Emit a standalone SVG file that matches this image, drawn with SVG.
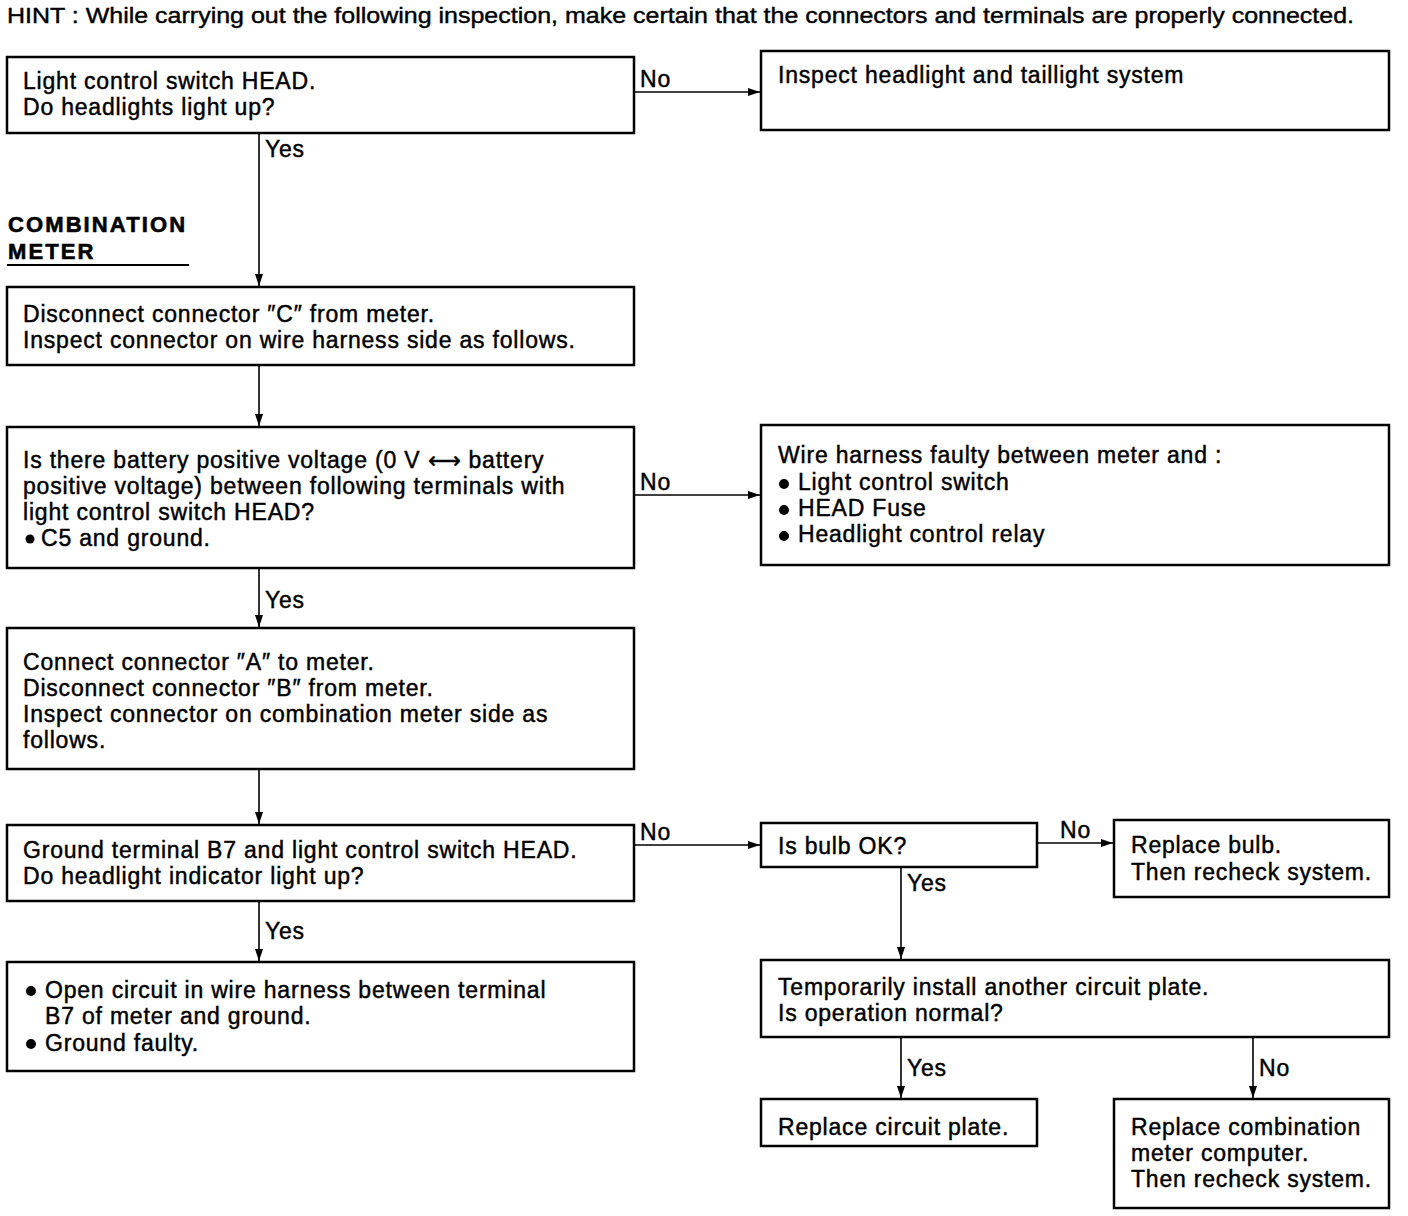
<svg xmlns="http://www.w3.org/2000/svg" width="1408" height="1216" viewBox="0 0 1408 1216">
<style>
.box{fill:#fff;stroke:#000;stroke-width:2.5}
.t{font-family:"Liberation Sans",Arial,sans-serif;font-size:23px;letter-spacing:0.8px;fill:#000;stroke:#000;stroke-width:0.45}
.lbl{font-family:"Liberation Sans",Arial,sans-serif;font-size:23px;letter-spacing:0.8px;fill:#000;stroke:#000;stroke-width:0.45}
.hint{font-family:"Liberation Sans",Arial,sans-serif;font-size:21.5px;fill:#000;stroke:#000;stroke-width:0.4}
.hd{font-family:"Liberation Sans",Arial,sans-serif;font-size:22px;font-weight:bold;letter-spacing:2.1px;fill:#000;stroke:#000;stroke-width:0.6}
.c{stroke:#000;stroke-width:1.6;fill:none;marker-end:url(#ah)}
.dot{fill:#000}
</style>
<defs>
<marker id="ah" viewBox="0 0 12 8" refX="12" refY="4" markerWidth="12" markerHeight="8" markerUnits="userSpaceOnUse" orient="auto">
<path d="M0,0 L12,4 L0,8 Z" fill="#000"/>
</marker>
</defs>
<rect width="1408" height="1216" fill="#fff"/>
<text class="hint" x="7" y="23" textLength="1347" lengthAdjust="spacingAndGlyphs">HINT : While carrying out the following inspection, make certain that the connectors and terminals are properly connected.</text>
<g id="heading">
<text class="hd" x="8" y="232">COMBINATION</text>
<text class="hd" x="8" y="259">METER</text>
<line x1="7" y1="265" x2="189" y2="265" stroke="#000" stroke-width="2"/>
</g>
<g id="connectors">
<line class="c" x1="634" y1="92" x2="760" y2="92"/>
<text class="lbl" x="640" y="87">No</text>
<line class="c" x1="259" y1="133" x2="259" y2="286"/>
<text class="lbl" x="265" y="157">Yes</text>
<line class="c" x1="259" y1="365" x2="259" y2="426"/>
<line class="c" x1="634" y1="495" x2="760" y2="495"/>
<text class="lbl" x="640" y="490">No</text>
<line class="c" x1="259" y1="568" x2="259" y2="627"/>
<text class="lbl" x="265" y="608">Yes</text>
<line class="c" x1="259" y1="769" x2="259" y2="824"/>
<line class="c" x1="634" y1="845" x2="760" y2="845"/>
<text class="lbl" x="640" y="840">No</text>
<line class="c" x1="259" y1="901" x2="259" y2="961"/>
<text class="lbl" x="265" y="939">Yes</text>
<line class="c" x1="1037" y1="843" x2="1113" y2="843"/>
<text class="lbl" x="1060" y="838">No</text>
<line class="c" x1="901" y1="867" x2="901" y2="959"/>
<text class="lbl" x="907" y="891">Yes</text>
<line class="c" x1="901" y1="1037" x2="901" y2="1098"/>
<text class="lbl" x="907" y="1076">Yes</text>
<line class="c" x1="1253" y1="1037" x2="1253" y2="1098"/>
<text class="lbl" x="1259" y="1076">No</text>
</g>
<g id="n1">
<rect class="box" x="7" y="57" width="627" height="76"/>
<text class="t" x="23" y="89">Light control switch HEAD.</text>
<text class="t" x="23" y="115">Do headlights light up?</text>
</g>
<g id="n2">
<rect class="box" x="761" y="51" width="628" height="79"/>
<text class="t" x="778" y="83">Inspect headlight and taillight system</text>
</g>
<g id="n3">
<rect class="box" x="7" y="287" width="627" height="78"/>
<text class="t" x="23" y="322">Disconnect connector ″C″ from meter.</text>
<text class="t" x="23" y="348">Inspect connector on wire harness side as follows.</text>
</g>
<g id="n4">
<rect class="box" x="7" y="427" width="627" height="141"/>
<text class="t" x="23" y="468">Is there battery positive voltage (0 V ⟷ battery</text>
<text class="t" x="23" y="494">positive voltage) between following terminals with</text>
<text class="t" x="23" y="520">light control switch HEAD?</text>
<circle class="dot" cx="30" cy="539" r="4.5"/>
<text class="t" x="41" y="546">C5 and ground.</text>
</g>
<g id="n5">
<rect class="box" x="761" y="425" width="628" height="140"/>
<text class="t" x="778" y="463">Wire harness faulty between meter and :</text>
<circle class="dot" cx="784" cy="484" r="5"/>
<text class="t" x="798" y="490">Light control switch</text>
<circle class="dot" cx="784" cy="510" r="5"/>
<text class="t" x="798" y="516">HEAD Fuse</text>
<circle class="dot" cx="784" cy="536" r="5"/>
<text class="t" x="798" y="542">Headlight control relay</text>
</g>
<g id="n6">
<rect class="box" x="7" y="628" width="627" height="141"/>
<text class="t" x="23" y="670">Connect connector ″A″ to meter.</text>
<text class="t" x="23" y="696">Disconnect connector ″B″ from meter.</text>
<text class="t" x="23" y="722">Inspect connector on combination meter side as</text>
<text class="t" x="23" y="748">follows.</text>
</g>
<g id="n7">
<rect class="box" x="7" y="825" width="627" height="76"/>
<text class="t" x="23" y="858">Ground terminal B7 and light control switch HEAD.</text>
<text class="t" x="23" y="884">Do headlight indicator light up?</text>
</g>
<g id="n8">
<rect class="box" x="761" y="823" width="276" height="44"/>
<text class="t" x="778" y="854">Is bulb OK?</text>
</g>
<g id="n9">
<rect class="box" x="1114" y="820" width="275" height="77"/>
<text class="t" x="1131" y="853">Replace bulb.</text>
<text class="t" x="1131" y="880">Then recheck system.</text>
</g>
<g id="n10">
<rect class="box" x="7" y="962" width="627" height="109"/>
<circle class="dot" cx="31" cy="991" r="5"/>
<text class="t" x="45" y="998">Open circuit in wire harness between terminal</text>
<text class="t" x="45" y="1024">B7 of meter and ground.</text>
<circle class="dot" cx="31" cy="1044" r="5"/>
<text class="t" x="45" y="1051">Ground faulty.</text>
</g>
<g id="n11">
<rect class="box" x="761" y="960" width="628" height="77"/>
<text class="t" x="778" y="995">Temporarily install another circuit plate.</text>
<text class="t" x="778" y="1021">Is operation normal?</text>
</g>
<g id="n12">
<rect class="box" x="761" y="1099" width="276" height="47"/>
<text class="t" x="778" y="1135">Replace circuit plate.</text>
</g>
<g id="n13">
<rect class="box" x="1114" y="1099" width="275" height="109"/>
<text class="t" x="1131" y="1135">Replace combination</text>
<text class="t" x="1131" y="1161">meter computer.</text>
<text class="t" x="1131" y="1187">Then recheck system.</text>
</g>
</svg>
